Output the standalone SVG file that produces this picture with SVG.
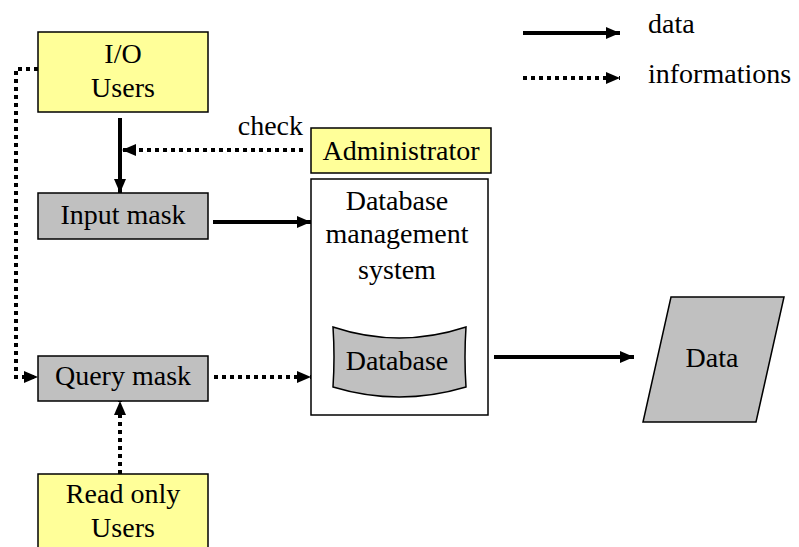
<svg xmlns="http://www.w3.org/2000/svg" width="799" height="547" viewBox="0 0 799 547">
<defs>
<style>
.t{font-family:"Liberation Serif","Times New Roman",serif;font-size:28px;fill:#000;text-anchor:middle}
.ts{font-family:"Liberation Serif","Times New Roman",serif;font-size:28px;fill:#000}
.yel{fill:#ffff99;stroke:#000;stroke-width:1.5}
.gry{fill:#c0c0c0;stroke:#000;stroke-width:1.5}
.wht{fill:#fff;stroke:#000;stroke-width:1.5}
.sol{fill:none;stroke:#000;stroke-width:4}
.dot{fill:none;stroke:#000;stroke-width:4;stroke-dasharray:4 4}
</style>
<marker id="ah" viewBox="0 0 14 12" refX="14" refY="6" markerWidth="14" markerHeight="12" markerUnits="userSpaceOnUse" orient="auto">
<path d="M0,0 L14,6 L0,12 Z" fill="#000"/>
</marker>
</defs>
<rect width="799" height="547" fill="#fff"/>
<g id="connectors">
<line class="sol" x1="120" y1="118" x2="120" y2="193" marker-end="url(#ah)"/>
<line class="dot" x1="303" y1="150" x2="122" y2="150" marker-end="url(#ah)"/>
<line class="sol" x1="213" y1="222" x2="311" y2="222" marker-end="url(#ah)"/>
<line class="dot" x1="214" y1="377" x2="311" y2="377" marker-end="url(#ah)"/>
<polyline class="dot" points="38,69 16,69 16,377 38,377" marker-end="url(#ah)"/>
<line class="dot" x1="120" y1="474" x2="120" y2="401" marker-end="url(#ah)"/>
<line class="sol" x1="494" y1="357" x2="634" y2="357" marker-end="url(#ah)"/>
<line class="sol" x1="523" y1="33" x2="620" y2="33" marker-end="url(#ah)"/>
<line class="dot" x1="523" y1="78" x2="620" y2="78" marker-end="url(#ah)"/>
</g>
<g id="legend">
<text class="ts" x="648" y="33">data</text>
<text class="ts" x="648" y="83">informations</text>
</g>
<g id="io-users">
<rect class="yel" x="38" y="32" width="170" height="80"/>
<text class="t" x="123" y="63">I/O</text>
<text class="t" x="123" y="97">Users</text>
</g>
<g id="check-label">
<text class="ts" x="303" y="135" style="text-anchor:end">check</text>
</g>
<g id="administrator">
<rect class="yel" x="311" y="128" width="180" height="45"/>
<text class="t" x="401" y="160">Administrator</text>
</g>
<g id="input-mask">
<rect class="gry" x="38" y="193" width="170" height="46"/>
<text class="t" x="123" y="224">Input mask</text>
</g>
<g id="dbms">
<rect class="wht" x="311" y="179" width="177" height="236"/>
<text class="t" x="397" y="210">Database</text>
<text class="t" x="397" y="243">management</text>
<text class="t" x="397" y="279">system</text>
</g>
<g id="database">
<path class="gry" d="M333,327 Q399,349 466,327 Q464,357 466,387 Q399,407 333,387 Q335,357 333,327 Z"/>
<text class="t" x="397" y="370">Database</text>
</g>
<g id="query-mask">
<rect class="gry" x="38" y="356" width="170" height="45"/>
<text class="t" x="123" y="385">Query mask</text>
</g>
<g id="read-only-users">
<rect class="yel" x="38" y="474" width="170" height="90"/>
<text class="t" x="123" y="503">Read only</text>
<text class="t" x="123" y="537">Users</text>
</g>
<g id="data">
<polygon class="gry" points="671,297 784,297 756,422 643,422"/>
<text class="t" x="712" y="367">Data</text>
</g>
</svg>
